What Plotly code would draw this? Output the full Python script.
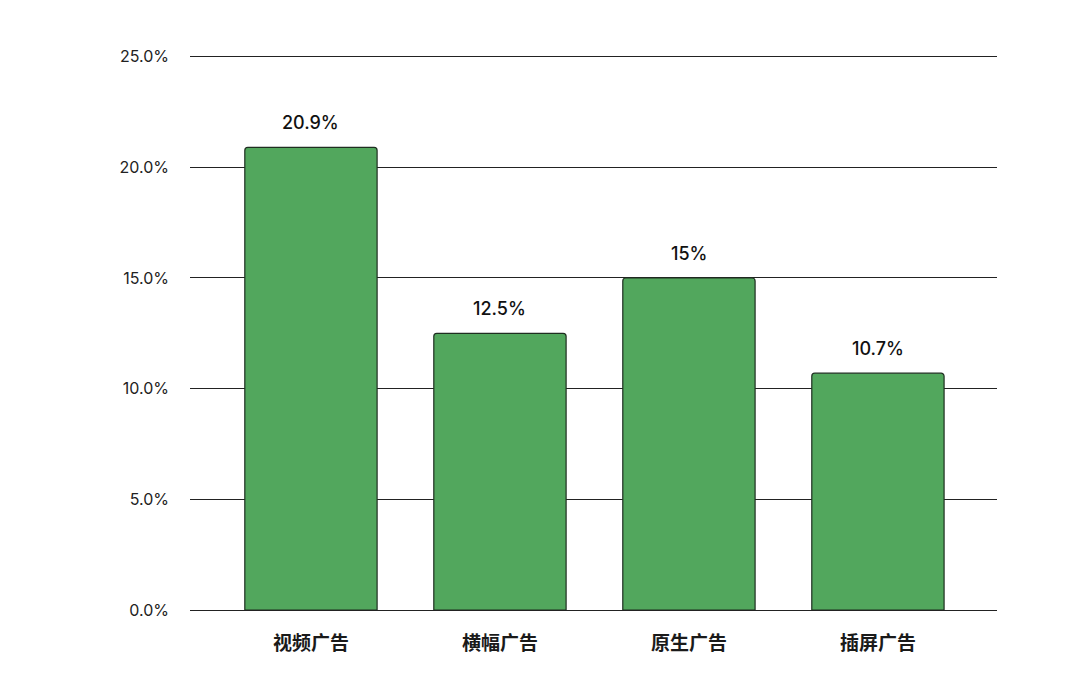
import plotly.graph_objects as go

categories = ["视频广告", "横幅广告", "原生广告", "插屏广告"]
values = [20.9, 12.5, 15.0, 10.7]
value_labels = ["20.9%", "12.5%", "15%", "10.7%"]
y_ticks = [0, 5, 10, 15, 20, 25]
y_tick_labels = ["0.0%", "5.0%", "10.0%", "15.0%", "20.0%", "25.0%"]

fig = go.Figure()
fig.add_trace(go.Bar(
    x=categories, y=values,
    marker=dict(color="#52a75d", line=dict(color="#1e2e20", width=1.2)),
    hoverinfo="skip",
))

for c, v, t in zip(categories, values, value_labels):
    fig.add_annotation(x=c, y=v, text=t, showarrow=False, yanchor="bottom", yshift=12,
                       font=dict(family="Inter, Lato, sans-serif", size=18, color="#111111", weight=500))

fig.update_layout(
    width=1080, height=686,
    margin=dict(l=182, r=91, t=42, b=84),
    paper_bgcolor="white", plot_bgcolor="white",
    bargap=0.30,
    barcornerradius=3,
    showlegend=False,
    xaxis=dict(
        range=[-0.64, 3.63],
        showgrid=False, showline=False, ticks="",
        ticklabelstandoff=20,
        tickfont=dict(family="Noto Sans CJK SC", size=19, color="#1a1a1a", weight="bold"),
    ),
    yaxis=dict(
        range=[0, 25.3], tickvals=y_ticks, ticktext=y_tick_labels,
        showgrid=True, gridcolor="#222222", gridwidth=1.3,
        zeroline=True, zerolinecolor="#222222", zerolinewidth=1.3,
        showline=False, ticks="", ticklabelstandoff=20,
        tickfont=dict(family="Inter, Lato, sans-serif", size=16, color="#222222"),
    ),
)

fig.write_html("out.html")
